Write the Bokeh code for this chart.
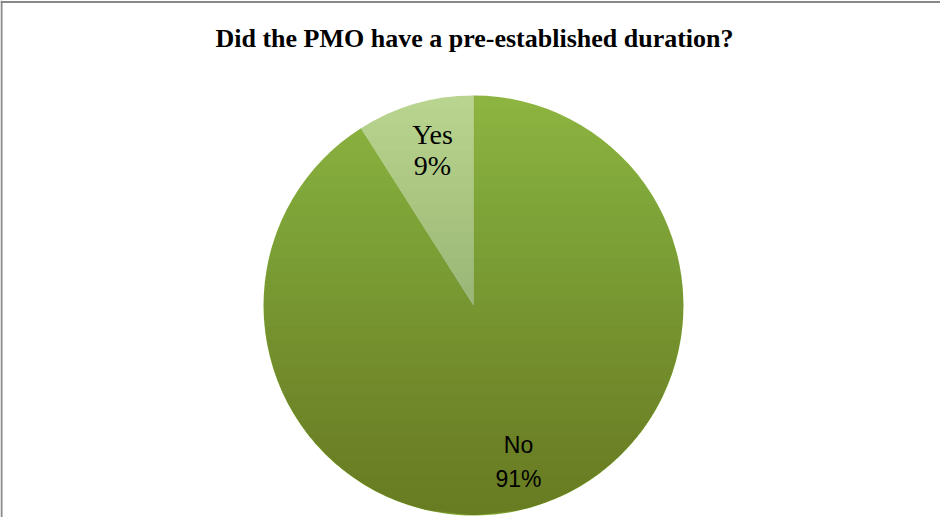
import numpy as np
from bokeh.plotting import figure
from bokeh.models import Range1d, Span, ColumnDataSource
from bokeh.embed import file_html
from bokeh.resources import INLINE
from bokeh.core.properties import value

# ---- data ----
categories = ["Yes", "No"]
percent = [9, 91]
pct_labels = ["9%", "91%"]
colors = ["#B8D48F", "#8DB440"]

W, H = 940, 517
p = figure(width=W, height=H, output_backend="svg", toolbar_location=None,
           x_range=Range1d(0, W), y_range=Range1d(0, H), min_border=0,
           outline_line_color=None, background_fill_color="white",
           border_fill_color="white")
p.axis.visible = False
p.grid.visible = False

cx, cy, R = 473, 212, 210

# wedges: start at 12 o'clock, going anticlockwise (Yes first)
fr = np.array(percent, dtype=float) / sum(percent)
ends = np.cumsum(fr) * 2 * np.pi
starts = np.concatenate([[0], ends[:-1]])
src = ColumnDataSource(dict(cat=categories, start=np.pi / 2 + starts,
                            end=np.pi / 2 + ends, color=colors))
p.wedge(x=cx, y=cy, radius=R, start_angle="start", end_angle="end",
        direction="anticlock", fill_color="color", line_color=None, source=src)

# vertical shading (darker toward the bottom) via stacked circular segments
n = 30
xs_list, ys_list = [], []
for i in range(1, n + 1):
    ytop = cy + R - 2 * R * i / (n + 1)
    yy = np.linspace(cy - R, ytop, 60)
    hw = np.sqrt(np.clip(R ** 2 - (yy - cy) ** 2, 0, None))
    xs_list.append(np.concatenate([cx + hw, (cx - hw)[::-1]]))
    ys_list.append(np.concatenate([yy, yy[::-1]]))
p.patches(xs_list, ys_list, fill_color="black", fill_alpha=0.0085, line_color=None)

# labels
p.text(x=[cx - 41, cx - 41], y=[cy + 171, cy + 140], text=[categories[0], pct_labels[0]],
       text_font=value("Liberation Serif"), text_font_size="28px",
       text_align="center", text_baseline="middle", text_color="black")
p.text(x=[cx + 45, cx + 45], y=[cy - 139, cy - 173], text=[categories[1], pct_labels[1]],
       text_font=value("Liberation Sans"), text_font_size="23px",
       text_align="center", text_baseline="middle", text_color="black")

# title
p.text(x=[cx + 1], y=[H - 38], text=["Did the PMO have a pre-established duration?"],
       text_font=value("Liberation Serif"), text_font_size="26px",
       text_font_style="bold", text_align="center", text_baseline="middle",
       text_color="black")

# chart border (top and left visible)
p.add_layout(Span(location=H - 1.5, dimension="width", line_color="#888888", line_width=2))
p.add_layout(Span(location=1, dimension="height", line_color="#888888", line_width=2))

open("out.html", "w").write(file_html(p, INLINE))
